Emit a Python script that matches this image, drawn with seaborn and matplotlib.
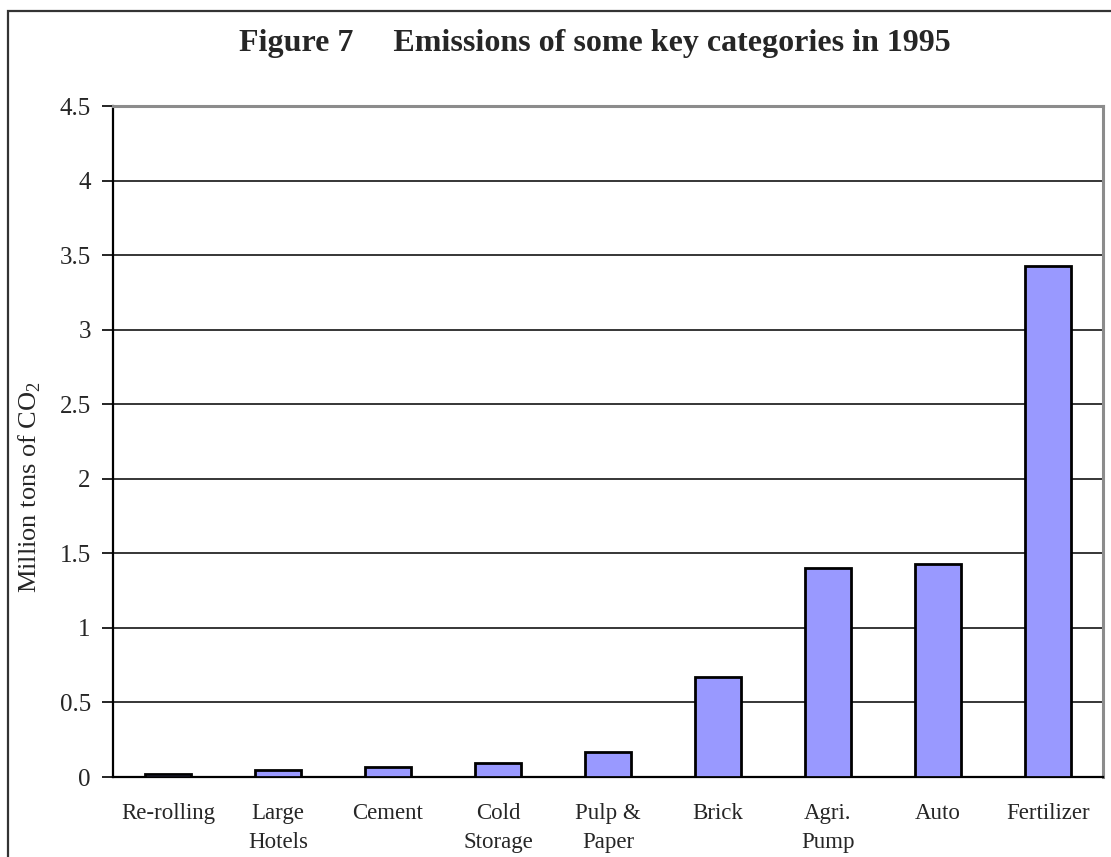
import numpy as np
import pandas as pd
import matplotlib
matplotlib.use("Agg")
import matplotlib.pyplot as plt
from matplotlib.patches import Rectangle
import seaborn as sns

# Emissions by category, 1995 (million tons of CO2)
categories = ["Re-rolling", "Large\nHotels", "Cement", "Cold\nStorage", "Pulp &\nPaper",
              "Brick", "Agri.\nPump", "Auto", "Fertilizer"]
emissions = [0.02, 0.05, 0.07, 0.095, 0.165, 0.67, 1.40, 1.43, 3.43]
y_ticks = [0, 0.5, 1, 1.5, 2, 2.5, 3, 3.5, 4, 4.5]
y_tick_labels = ["0", "0.5", "1", "1.5", "2", "2.5", "3", "3.5", "4", "4.5"]

sns.set_theme(style="white")
plt.rcParams["font.family"] = ["Liberation Serif", "DejaVu Serif"]
plt.rcParams["mathtext.fontset"] = "custom"
plt.rcParams["mathtext.rm"] = "Liberation Serif"

W, H = 1111, 857
fig = plt.figure(figsize=(W / 100, H / 100), dpi=100)
fig.patch.set_facecolor("white")

# outer frame around the whole figure
fig.patches.append(Rectangle((8 / W, -0.2), 2.0, 1.2 - 10.5 / H,
                             transform=fig.transFigure, fill=False,
                             edgecolor="#333333", linewidth=1.6, zorder=0))

left, right, top, bottom = 113, 1103, 106, 777
ax = fig.add_axes([left / W, 1 - bottom / H, (right - left) / W, (bottom - top) / H])

df = pd.DataFrame({"category": categories, "emissions": emissions})
sns.barplot(data=df, x="category", y="emissions", order=categories, ax=ax,
            color="#9999FF", saturation=1, width=0.41,
            edgecolor="black", linewidth=2.0, zorder=3)

ax.set_xlim(-0.5, len(categories) - 0.5)
ax.set_ylim(0, 4.5)
ax.set_yticks(y_ticks)
ax.set_yticklabels(y_tick_labels, fontsize=18)
ax.yaxis.grid(True, color="black", linewidth=1.1)
ax.set_axisbelow(True)

# category labels at bar centres, tick marks at category boundaries
ax.set_xticks(range(len(categories)))
ax.set_xticklabels(categories, fontsize=16.5, linespacing=1.45)
ax.set_xticks(np.arange(-0.5, len(categories), 1), minor=True)
ax.tick_params(axis="x", which="major", length=0, pad=19)
ax.tick_params(axis="x", which="minor", length=8, width=1.2, color="black", direction="out")
ax.tick_params(axis="y", which="major", length=8, width=1.2, color="black",
               direction="out", pad=8, left=True)

for side in ("left", "bottom"):
    ax.spines[side].set_color("black")
    ax.spines[side].set_linewidth(1.6)
for side in ("top", "right"):
    ax.spines[side].set_color("#8c8c8c")
    ax.spines[side].set_linewidth(2.2)

ax.set_xlabel("")
ax.set_ylabel(r"Million tons of CO$_2$", fontsize=19)
ax.yaxis.set_label_coords(-0.071, 0.432)

fig.text(595 / W, 1 - 43 / H, "Figure 7     Emissions of some key categories in 1995",
         ha="center", va="center", fontsize=23, fontweight="bold")

fig.savefig("out.png", dpi=100)
